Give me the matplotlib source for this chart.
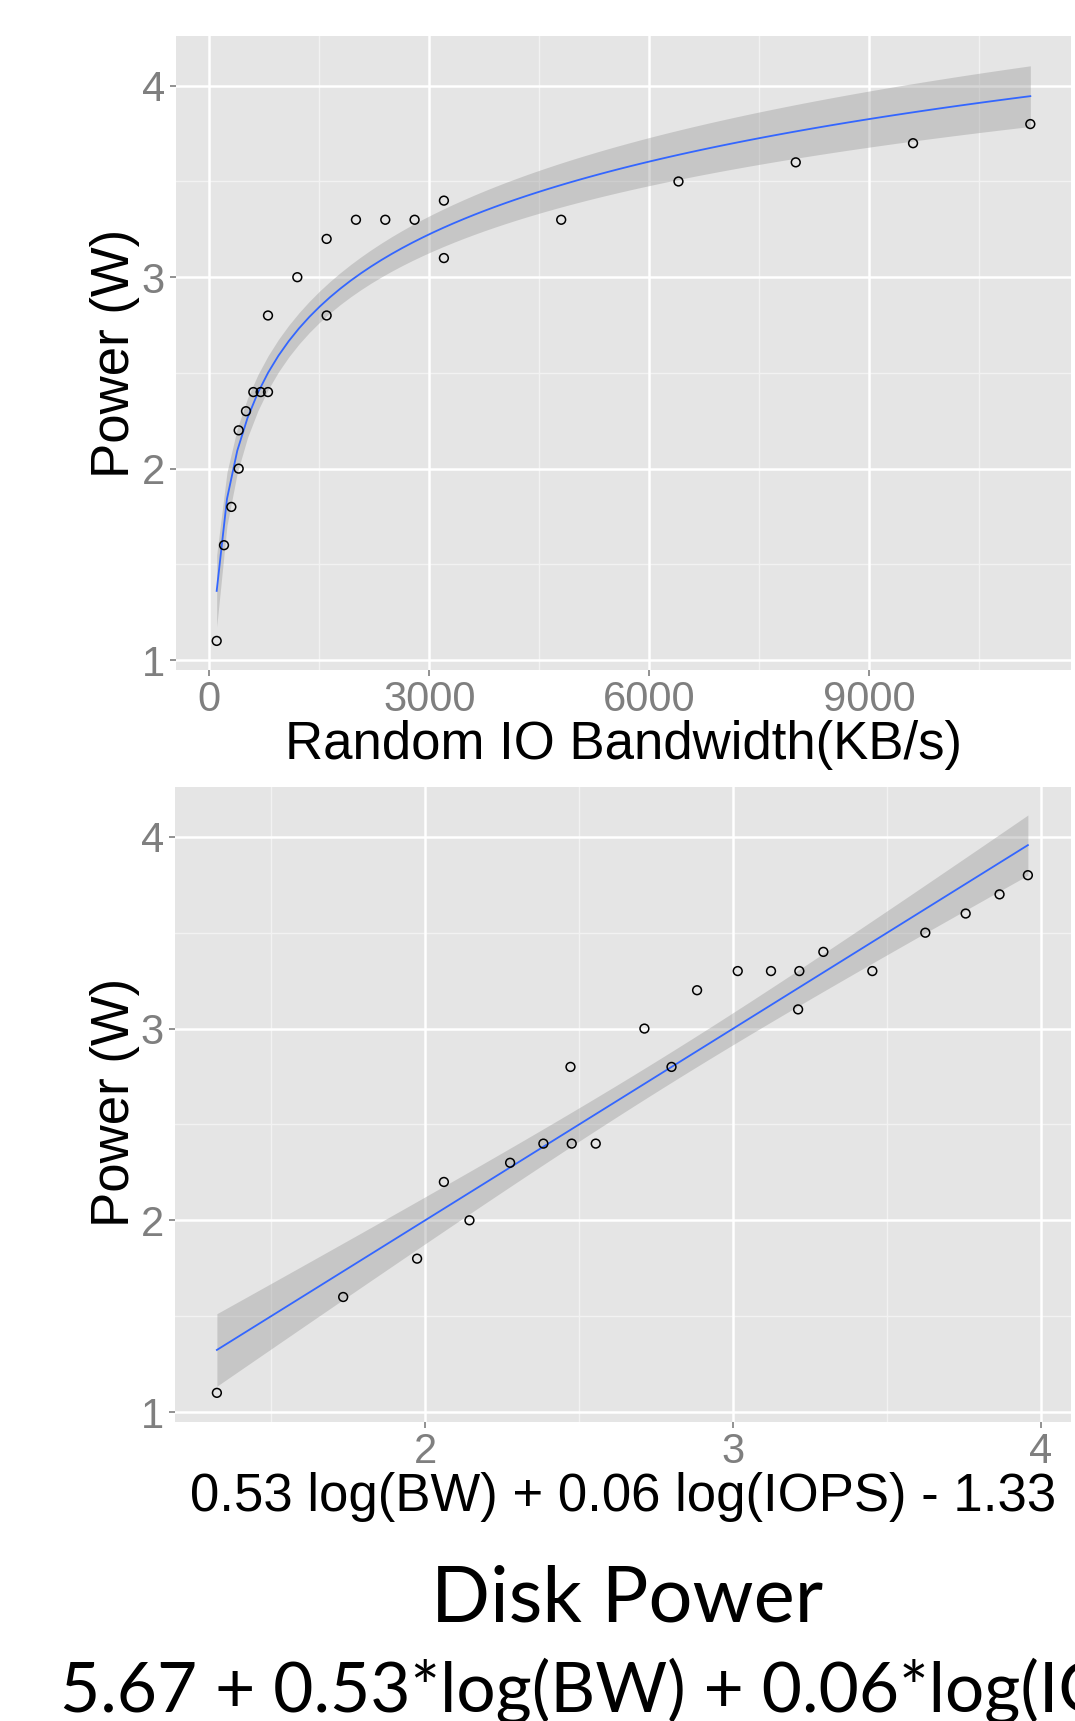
import numpy as np
import matplotlib
matplotlib.use("Agg")
import matplotlib.pyplot as plt

# random IO bandwidth (KB/s) vs measured disk power (W)
bw = [100, 200, 300, 400, 400, 500, 600, 700, 800, 800, 1200, 1600, 1600,
      2000, 2400, 2800, 3200, 3200, 4800, 6400, 8000, 9600, 11200]
power_top = [1.1, 1.6, 1.8, 2.0, 2.2, 2.3, 2.4, 2.4, 2.4, 2.8, 3.0, 3.2, 2.8,
             3.3, 3.3, 3.3, 3.4, 3.1, 3.3, 3.5, 3.6, 3.7, 3.8]

# model value 0.53 log(BW) + 0.06 log(IOPS) - 1.33 vs measured power
model = [1.324, 1.734, 1.974, 2.061, 2.144, 2.276, 2.384, 2.472, 2.476, 2.554,
         2.712, 2.800, 2.883, 3.015, 3.123, 3.215, 3.211, 3.293, 3.452, 3.624,
         3.755, 3.865, 3.957]
power_bot = [1.1, 1.6, 1.8, 2.2, 2.0, 2.3, 2.4, 2.8, 2.4, 2.4,
             3.0, 2.8, 3.2, 3.3, 3.3, 3.3, 3.1, 3.4, 3.3, 3.5,
             3.6, 3.7, 3.8]

top_xticks = [0, 3000, 6000, 9000]
bot_xticks = [2, 3, 4]
yticks = [1, 2, 3, 4]

plt.rcParams['font.family'] = ['Liberation Sans', 'DejaVu Sans']

T95 = 2.08  # t quantile, 21 dof


def lm_band(x, y, xs, transform):
    # ordinary least squares y ~ transform(x) with 95% CI of the mean
    X = np.column_stack([np.ones(len(x)), transform(np.asarray(x, float))])
    beta, *_ = np.linalg.lstsq(X, np.asarray(y, float), rcond=None)
    resid = np.asarray(y) - X @ beta
    s2 = resid @ resid / (len(x) - 2)
    cov = s2 * np.linalg.inv(X.T @ X)
    Xs = np.column_stack([np.ones(len(xs)), transform(xs)])
    fit = Xs @ beta
    se = np.sqrt(np.einsum('ij,jk,ik->i', Xs, cov, Xs))
    return fit, fit - T95 * se, fit + T95 * se


def gg_style(ax, minor_x, minor_y):
    ax.set_facecolor('#E5E5E5')
    for s in ax.spines.values():
        s.set_visible(False)
    for v in minor_x:
        ax.axvline(v, color='#F2F2F2', lw=1.0, zorder=0)
    for v in minor_y:
        ax.axhline(v, color='#F2F2F2', lw=1.0, zorder=0)
    ax.grid(True, color='white', lw=1.8, zorder=0.5)
    ax.set_axisbelow(True)
    ax.tick_params(colors='#7F7F7F', labelsize=30, length=4, width=1.2, pad=4)
    ax.tick_params(axis='x', pad=3)


fig = plt.figure(figsize=(10.75, 17.21), dpi=100)

# top panel
ax1 = fig.add_axes([176 / 1075, 1 - 670 / 1721, 895 / 1075, 634 / 1721])
gg_style(ax1, [1500, 4500, 7500, 10500], [1.5, 2.5, 3.5])
xs = np.linspace(min(bw), max(bw), 80)
fit, lo, hi = lm_band(bw, power_top, xs, np.log)
ax1.fill_between(xs, lo, hi, color='#999999', alpha=0.4, lw=0, zorder=2)
ax1.plot(xs, fit, color='#3366FF', lw=1.3, zorder=3)
ax1.scatter(bw, power_top, s=40, facecolors='none', edgecolors='black',
            linewidths=1.1, zorder=4)
ax1.set_xlim(-455, 11755)
ax1.set_ylim(0.948, 4.26)
ax1.set_xticks(top_xticks)
ax1.set_yticks(yticks)
ax1.set_xlabel('Random IO Bandwidth(KB/s)', fontsize=38, labelpad=0)

# bottom panel
ax2 = fig.add_axes([175 / 1075, 1 - 1422 / 1721, 896 / 1075, 635 / 1721])
gg_style(ax2, [1.5, 2.5, 3.5], [1.5, 2.5, 3.5])
xs2 = np.linspace(min(model), max(model), 80)
fit2, lo2, hi2 = lm_band(model, power_bot, xs2, lambda v: v)
ax2.fill_between(xs2, lo2, hi2, color='#999999', alpha=0.4, lw=0, zorder=2)
ax2.plot(xs2, fit2, color='#3366FF', lw=1.3, zorder=3)
ax2.scatter(model, power_bot, s=40, facecolors='none', edgecolors='black',
            linewidths=1.1, zorder=4)
ax2.set_xlim(1.188, 4.097)
ax2.set_ylim(0.948, 4.26)
ax2.set_xticks(bot_xticks)
ax2.set_yticks(yticks)
ax2.set_xlabel('0.53 log(BW) + 0.06 log(IOPS) - 1.33', fontsize=38, labelpad=0)

for ax, yc in [(ax1, 353), (ax2, 1102)]:
    fig.text(115 / 1075, 1 - yc / 1721, 'Power (W)', rotation=90,
             ha='center', va='center', fontsize=38)

# slide caption
fig.text(627 / 1075, 1 - 1600 / 1721, 'Disk Power', family=['Lato', 'DejaVu Sans'],
         ha='center', va='center', fontsize=56)
fig.text(60 / 1075, 1 - 1712 / 1721, '5.67 + 0.53*log(BW) + 0.06*log(IOPS)',
         family=['Lato', 'DejaVu Sans'], ha='left', va='baseline', fontsize=50)

fig.savefig('out.png', dpi=100)
